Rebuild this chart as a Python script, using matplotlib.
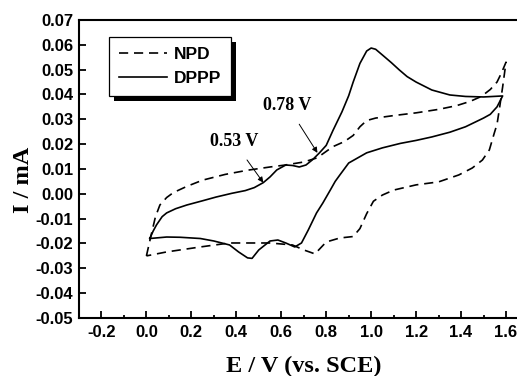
import matplotlib
matplotlib.use("Agg")
import matplotlib.pyplot as plt
from matplotlib.patches import Rectangle
from matplotlib.transforms import IdentityTransform

# cyclic voltammograms, potential (V vs. SCE) and current (mA)
npd_E = [0.0, 0.01, 0.02, 0.04, 0.06, 0.09, 0.12, 0.18, 0.25, 0.35, 0.45, 0.55,
         0.61, 0.70, 0.76, 0.83, 0.88, 0.92, 0.95, 0.98, 1.02, 1.10, 1.20, 1.30,
         1.38, 1.44, 1.49, 1.53, 1.56, 1.58, 1.60,
         1.585, 1.57, 1.56, 1.548, 1.526, 1.495, 1.45, 1.39, 1.30, 1.20, 1.10,
         1.05, 1.01, 0.98, 0.95, 0.92, 0.86, 0.80, 0.75, 0.70, 0.65, 0.55, 0.45,
         0.37, 0.24, 0.09, 0.0]
npd_I = [-0.025, -0.021, -0.017, -0.0093, -0.0045, -0.0015, 0.0005, 0.0030,
         0.0055, 0.0078, 0.0095, 0.0108, 0.0115, 0.0128, 0.0145, 0.0190, 0.0210,
         0.0235, 0.0270, 0.0295, 0.0305, 0.0315, 0.0326, 0.0340, 0.0355, 0.0372,
         0.0392, 0.0420, 0.0450, 0.0487, 0.0530,
         0.0430, 0.0338, 0.0280, 0.0245, 0.0177, 0.0136, 0.0104, 0.0076, 0.0048,
         0.0036, 0.0015, -0.0005, -0.0030, -0.0080, -0.0140, -0.0172, -0.0178,
         -0.0194, -0.0242, -0.0226, -0.0206, -0.0198, -0.0198, -0.0198, -0.0214,
         -0.0234, -0.0250]

dppp_E = [0.015, 0.03, 0.045, 0.07, 0.09, 0.13, 0.18, 0.25, 0.31, 0.38, 0.44,
          0.48, 0.52, 0.55, 0.58, 0.62, 0.65, 0.68, 0.71, 0.74, 0.77, 0.80, 0.83,
          0.87, 0.90, 0.92, 0.95, 0.98, 1.00, 1.02, 1.05, 1.09, 1.125, 1.16, 1.20,
          1.27, 1.35, 1.42, 1.50, 1.585,
          1.56, 1.53, 1.50, 1.42, 1.35, 1.27, 1.20, 1.13, 1.05, 0.98, 0.90, 0.86,
          0.84, 0.82, 0.785, 0.757, 0.72, 0.69, 0.66, 0.62, 0.585, 0.55, 0.50,
          0.47, 0.45, 0.41, 0.37, 0.30, 0.24, 0.15, 0.09, 0.015]
dppp_I = [-0.018, -0.0150, -0.0125, -0.0092, -0.0077, -0.0060, -0.0045, -0.0028,
          -0.0013, 0.0002, 0.0013, 0.0025, 0.0045, 0.0068, 0.0096, 0.0116, 0.0114,
          0.0108, 0.0116, 0.0138, 0.0165, 0.0195, 0.0255, 0.0330, 0.0395, 0.0450,
          0.0525, 0.0575, 0.0587, 0.0582, 0.0559, 0.0528, 0.0499, 0.0472, 0.0450,
          0.0418, 0.0398, 0.0392, 0.0390, 0.0394,
          0.0350, 0.0320, 0.0305, 0.0270, 0.0248, 0.0229, 0.0215, 0.0203, 0.0185,
          0.0165, 0.0124, 0.0075, 0.0050, 0.0018, -0.0037, -0.0077, -0.0146,
          -0.0198, -0.0214, -0.0198, -0.0186, -0.0190, -0.0226, -0.0260, -0.0258,
          -0.0234, -0.0206, -0.0190, -0.0180, -0.0175, -0.0174, -0.018]

x_ticks = [-0.2, 0.0, 0.2, 0.4, 0.6, 0.8, 1.0, 1.2, 1.4, 1.6]
y_ticks = [-0.05, -0.04, -0.03, -0.02, -0.01, 0.00, 0.01, 0.02, 0.03, 0.04,
           0.05, 0.06, 0.07]

narrow = ["Liberation Sans Narrow", "Liberation Sans", "DejaVu Sans"]
sans = ["Liberation Sans", "DejaVu Sans"]
serif = ["Liberation Serif", "DejaVu Serif"]

fig = plt.figure(figsize=(5.17, 3.76), dpi=100)
ax = fig.add_axes([0.1528, 0.1543, 0.8694, 0.7926])

ax.plot(npd_E, npd_I, color="black", lw=1.2, dashes=(5.5, 3.5), label="NPD")
ax.plot(dppp_E, dppp_I, color="black", lw=1.2, label="DPPP")

ax.set_xlim(-0.3, 1.7)
ax.set_ylim(-0.05, 0.07)
ax.set_xticks(x_ticks)
ax.set_xticks([-0.3, -0.1, 0.1, 0.3, 0.5, 0.7, 0.9, 1.1, 1.3, 1.5], minor=True)
ax.set_yticks(y_ticks)
ax.set_xticklabels([f"{v:.1f}" for v in x_ticks])
ax.set_yticklabels([f"{v:.2f}" for v in y_ticks])
for lab in ax.get_xticklabels() + ax.get_yticklabels():
    lab.set_family(narrow)
    lab.set_fontweight("bold")
    lab.set_fontsize(12)

ax.tick_params(which="both", direction="in", width=1.3)
ax.tick_params(which="major", length=5)
ax.tick_params(which="minor", length=2.5)
ax.tick_params(axis="x", pad=5)
ax.tick_params(axis="y", pad=4)
for sp in ax.spines.values():
    sp.set_linewidth(1.5)

ax.set_xlabel("E / V (vs. SCE)", family=serif, fontweight="bold", fontsize=17.5)
ax.set_ylabel("I / mA", family=serif, fontweight="bold", fontsize=17.5)
ax.xaxis.set_label_coords(0.4995, -0.128)
ax.yaxis.set_label_coords(-0.10, 0.463)

# peak markers
ax.annotate("0.53 V", xy=(0.52, 0.0045), xytext=(0.39, 0.0209),
            family=serif, fontweight="bold", fontsize=13,
            ha="center", va="center",
            arrowprops=dict(arrowstyle="-|>", color="black", lw=0.7,
                            mutation_scale=8, shrinkA=6, shrinkB=0))
ax.annotate("0.78 V", xy=(0.761, 0.0165), xytext=(0.628, 0.0354),
            family=serif, fontweight="bold", fontsize=13,
            ha="center", va="center",
            arrowprops=dict(arrowstyle="-|>", color="black", lw=0.7,
                            mutation_scale=8, shrinkA=6, shrinkB=0))

leg = ax.legend(loc="upper left", bbox_to_anchor=(0.067, 0.943),
                prop={"family": sans, "weight": "bold", "size": 12.5},
                frameon=True, fancybox=False, framealpha=1, edgecolor="black",
                handlelength=2.8, handletextpad=0.4, labelspacing=0.55,
                borderpad=0.55, borderaxespad=0)
leg.get_frame().set_linewidth(0.9)

# solid drop shadow behind the legend box
fig.canvas.draw()
bb = leg.get_frame().get_window_extent()
ax.add_patch(Rectangle((bb.x0 + 4.5, bb.y0 - 5), bb.width, bb.height,
                       transform=IdentityTransform(), facecolor="black",
                       edgecolor="none", zorder=4.5, clip_on=False))

fig.savefig("out.png", dpi=100)
